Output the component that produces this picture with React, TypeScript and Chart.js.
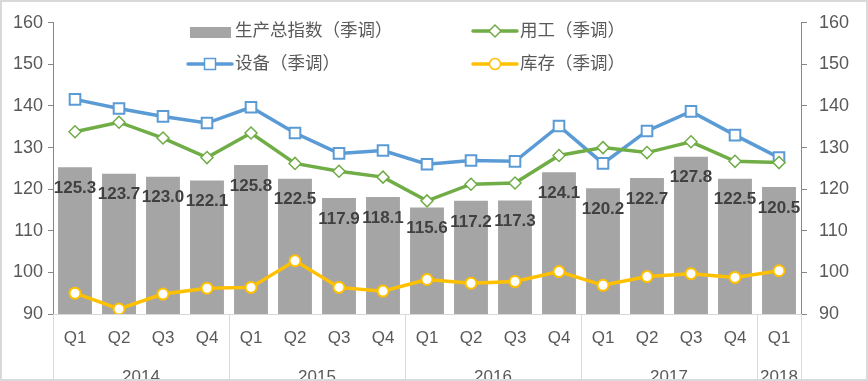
import React, { useEffect, useRef } from "react";
import { Chart, registerables } from "chart.js";
Chart.register(...registerables);

const quarters = ["Q1", "Q2", "Q3", "Q4", "Q1", "Q2", "Q3", "Q4", "Q1", "Q2", "Q3", "Q4", "Q1", "Q2", "Q3", "Q4", "Q1"];
const years = ["2014", "2015", "2016", "2017", "2018"];
const yearSpans = [4, 4, 4, 4, 1];
const production = [125.3, 123.7, 123.0, 122.1, 125.8, 122.5, 117.9, 118.1, 115.6, 117.2, 117.3, 124.1, 120.2, 122.7, 127.8, 122.5, 120.5];
const equipment = [141.6, 139.4, 137.5, 135.9, 139.7, 133.5, 128.6, 129.3, 126.0, 126.9, 126.7, 135.2, 126.2, 134.0, 138.7, 133.0, 127.6];
const employment = [133.8, 136.1, 132.3, 127.6, 133.5, 126.2, 124.3, 122.9, 117.2, 121.2, 121.5, 128.1, 130.0, 128.8, 131.4, 126.7, 126.4];
const inventory = [95.0, 91.2, 94.8, 96.2, 96.4, 102.8, 96.4, 95.5, 98.3, 97.4, 97.8, 100.2, 96.9, 99.0, 99.7, 98.8, 100.4];
const seriesNames = ["生产总指数（季调）", "设备（季调）", "用工（季调）", "库存（季调）"];
const yMin = 90;
const yMax = 160;
const yStep = 10;

const GRAY = "#a5a5a5";
const BLUE = "#5b9bd5";
const GREEN = "#70ad47";
const YELLOW = "#ffc000";
const TEXT = "#595959";
const AXIS = "#868686";
const LIGHT = "#d9d9d9";
const NUM_FONT = '"Liberation Sans", Arial, sans-serif';
const CJK_FONT = '"Noto Sans CJK SC", sans-serif';

const decorPlugin = {
  id: "decor",
  beforeDraw(chart: any) {
    const { ctx, width, height } = chart;
    ctx.save();
    ctx.fillStyle = "#ffffff";
    ctx.fillRect(0, 0, width, height);
    ctx.restore();
  },
  afterDatasetsDraw(chart: any) {
    const { ctx } = chart;
    const meta = chart.getDatasetMeta(0);
    ctx.save();
    ctx.font = `bold 17px ${NUM_FONT}`;
    ctx.fillStyle = "#404040";
    ctx.textAlign = "center";
    ctx.textBaseline = "middle";
    meta.data.forEach((bar: any, i: number) => {
      ctx.fillText(production[i].toFixed(1), bar.x, bar.y + 21);
    });
    ctx.restore();
  },
  afterDraw(chart: any) {
    const { ctx, chartArea, height, width } = chart;
    const xs = chart.scales.x;
    ctx.save();
    // x labels
    ctx.font = `17px ${NUM_FONT}`;
    ctx.fillStyle = TEXT;
    ctx.textAlign = "center";
    ctx.textBaseline = "middle";
    quarters.forEach((q, i) => {
      ctx.fillText(q, xs.getPixelForValue(i), chartArea.bottom + 24);
    });
    // separators + years
    ctx.strokeStyle = LIGHT;
    ctx.lineWidth = 1;
    const boundary = (i: number) => {
      if (i <= 0) return chartArea.left;
      if (i >= quarters.length) return chartArea.right;
      return (xs.getPixelForValue(i - 1) + xs.getPixelForValue(i)) / 2;
    };
    let start = 0;
    const edges = [boundary(0)];
    years.forEach((y, k) => {
      const end = start + yearSpans[k];
      const x0 = boundary(start);
      const x1 = boundary(end);
      edges.push(x1);
      ctx.fillText(y, (x0 + x1) / 2, height - 4);
      start = end;
    });
    edges.forEach((x) => {
      const xx = Math.round(x) + 0.5;
      ctx.beginPath();
      ctx.moveTo(xx, chartArea.bottom);
      ctx.lineTo(xx, height);
      ctx.stroke();
    });
    // legend
    ctx.font = `17.5px ${CJK_FONT}`;
    ctx.textAlign = "left";
    ctx.fillStyle = TEXT;
    const rows = [29, 62];
    const cols = [188, 473];
    ctx.fillStyle = GRAY;
    ctx.fillRect(cols[0] + 2, rows[0] - 2, 41, 11);
    ctx.fillStyle = TEXT;
    ctx.fillText(seriesNames[0], cols[0] + 47, rows[0]);
    const lineItem = (cx: number, cy: number, color: string, style: string, name: string) => {
      const ly = cy + 2;
      ctx.strokeStyle = color;
      ctx.lineWidth = 3.5;
      ctx.lineCap = "round";
      ctx.beginPath();
      ctx.moveTo(cx, ly);
      ctx.lineTo(cx + 44, ly);
      ctx.stroke();
      const mx = cx + 22;
      ctx.fillStyle = "#ffffff";
      ctx.lineWidth = 1.5;
      ctx.beginPath();
      if (style === "rect") {
        ctx.rect(mx - 5.5, ly - 5.5, 11, 11);
      } else if (style === "diamond") {
        ctx.moveTo(mx, ly - 6);
        ctx.lineTo(mx + 6, ly);
        ctx.lineTo(mx, ly + 6);
        ctx.lineTo(mx - 6, ly);
        ctx.closePath();
      } else {
        ctx.arc(mx, ly, 5.5, 0, Math.PI * 2);
      }
      ctx.fill();
      ctx.stroke();
      ctx.fillStyle = TEXT;
      ctx.fillText(name, cx + 47, cy);
    };
    lineItem(cols[0], rows[1], BLUE, "rect", seriesNames[1]);
    lineItem(cols[1], rows[0], GREEN, "diamond", seriesNames[2]);
    lineItem(cols[1], rows[1], YELLOW, "circle", seriesNames[3]);
    // outer border
    ctx.strokeStyle = LIGHT;
    ctx.lineWidth = 2;
    ctx.strokeRect(1, 1, width - 2, height - 2);
    ctx.restore();
  },
};

export default function App() {
  const ref = useRef<HTMLCanvasElement>(null);
  useEffect(() => {
    if (!ref.current) return;
    const chart = new Chart(ref.current, {
      type: "bar",
      data: {
        labels: quarters,
        datasets: [
          {
            type: "bar",
            label: seriesNames[0],
            data: production,
            backgroundColor: GRAY,
            barPercentage: 0.77,
            categoryPercentage: 1,
            yAxisID: "y",
            order: 5,
          },
          {
            type: "line",
            label: seriesNames[1],
            data: equipment,
            borderColor: BLUE,
            borderWidth: 3.5,
            pointStyle: "rect",
            pointRadius: 7.5,
            pointHoverRadius: 7.5,
            pointBackgroundColor: "#ffffff",
            pointBorderColor: BLUE,
            pointBorderWidth: 2,
            tension: 0,
            yAxisID: "y",
            order: 3,
          },
          {
            type: "line",
            label: seriesNames[2],
            data: employment,
            borderColor: GREEN,
            borderWidth: 3.5,
            pointStyle: "rectRot",
            pointRadius: 6,
            pointHoverRadius: 6,
            pointBackgroundColor: "#ffffff",
            pointBorderColor: GREEN,
            pointBorderWidth: 1.5,
            tension: 0,
            yAxisID: "y",
            order: 2,
          },
          {
            type: "line",
            label: seriesNames[3],
            data: inventory,
            borderColor: YELLOW,
            borderWidth: 3.5,
            pointStyle: "circle",
            pointRadius: 5.5,
            pointHoverRadius: 5.5,
            pointBackgroundColor: "#ffffff",
            pointBorderColor: YELLOW,
            pointBorderWidth: 2,
            tension: 0,
            yAxisID: "y",
            order: 1,
          },
        ],
      },
      options: {
        responsive: false,
        animation: false,
        layout: { padding: { top: 16, left: 0, right: 0, bottom: 0 } },
        plugins: { legend: { display: false }, tooltip: { enabled: false } },
        scales: {
          x: {
            type: "category",
            offset: true,
            grid: { display: false },
            ticks: { display: false },
            border: { color: LIGHT, width: 1 },
            afterFit: (s: any) => {
              s.height = 67;
            },
          },
          y: {
            position: "left",
            min: yMin,
            max: yMax,
            ticks: { stepSize: yStep, color: TEXT, font: { family: NUM_FONT, size: 18 }, padding: 5 },
            grid: { drawOnChartArea: false, tickLength: 5, color: AXIS },
            border: { color: AXIS, width: 1 },
            afterFit: (s: any) => {
              s.width = 53;
            },
          },
          y1: {
            position: "right",
            min: yMin,
            max: yMax,
            ticks: { stepSize: yStep, color: TEXT, font: { family: NUM_FONT, size: 18 }, padding: 12 },
            grid: { drawOnChartArea: false, tickLength: 6, color: AXIS },
            border: { color: AXIS, width: 1 },
            afterFit: (s: any) => {
              s.width = 67;
            },
          },
        },
      },
      plugins: [decorPlugin],
    } as any);
    return () => chart.destroy();
  }, []);
  return (
    <div style={{ position: "fixed", left: 0, top: 0, width: 868, height: 381 }}>
      <canvas ref={ref} width={868} height={381} style={{ width: 868, height: 381, display: "block" }} />
    </div>
  );
}
